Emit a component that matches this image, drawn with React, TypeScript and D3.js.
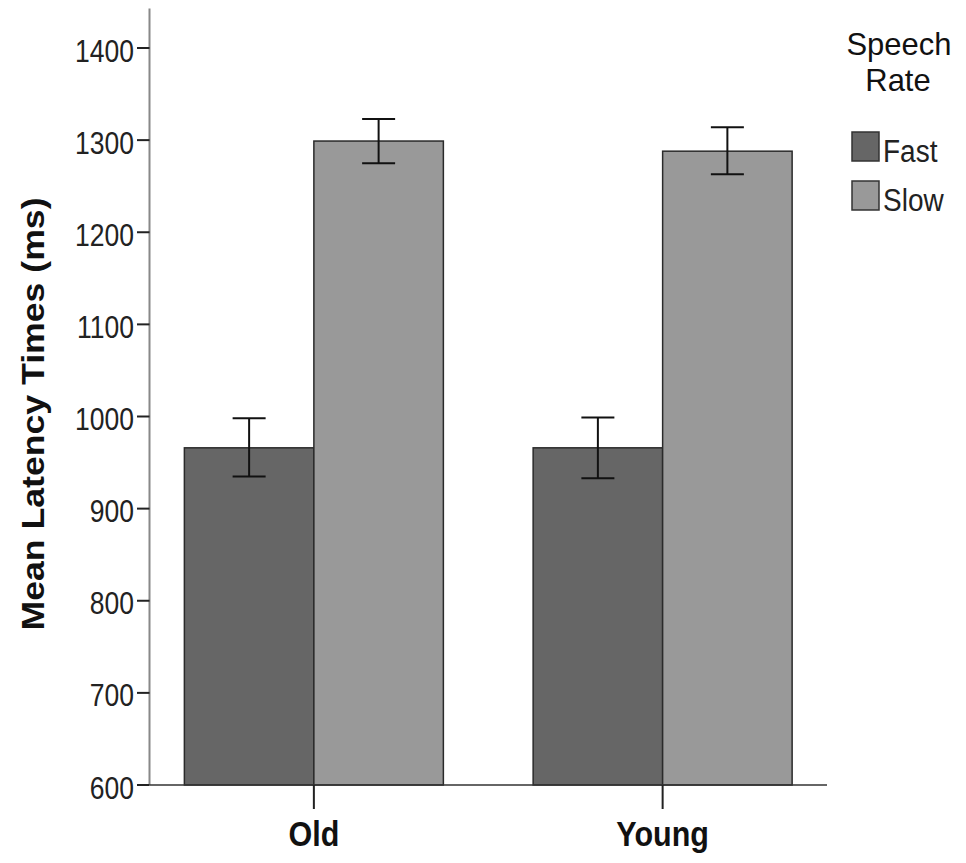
import React from "react";
import * as d3 from "d3";

const categories = ["Old", "Young"];
const seriesNames = ["Fast", "Slow"];
const fastMeans = [966, 966];
const slowMeans = [1299, 1288];
const fastLower = [935, 933];
const fastUpper = [998, 999];
const slowLower = [1275, 1263];
const slowUpper = [1323, 1314];
const yTicks = [600, 700, 800, 900, 1000, 1100, 1200, 1300, 1400];
const colors = ["#666666", "#999999"];
const legendTitleLines = ["Speech", "Rate"];

const W = 966;
const H = 863;
const FONT = "'Liberation Sans', Arial, sans-serif";

export default function App() {
  const y = d3.scaleLinear().domain([600, 1400]).range([785, 48]);
  const xAxisLeft = 149.5;
  const xAxisRight = 827;
  const x0 = d3
    .scaleBand<string>()
    .domain(categories)
    .range([xAxisLeft, xAxisRight])
    .paddingInner(0.2574)
    .paddingOuter(0.1);
  const x1 = d3.scaleBand<string>().domain(seriesNames).range([0, x0.bandwidth()]);
  const yTop = y(1443);
  const base = y(600);

  const series = [
    { name: "Fast", means: fastMeans, lo: fastLower, hi: fastUpper, color: colors[0] },
    { name: "Slow", means: slowMeans, lo: slowLower, hi: slowUpper, color: colors[1] },
  ];
  const capHalf = 16.5;
  const ls = 1.03;

  return (
    <svg
      width={W}
      height={H}
      style={{ position: "absolute", left: 0, top: 0, background: "#fff" }}
      fontFamily={FONT}
    >
      <rect x={0} y={0} width={W} height={H} fill="#fff" />
      {/* bars */}
      {series.map((s) =>
        categories.map((c, i) => {
          const bx = (x0(c) as number) + (x1(s.name) as number);
          const by = y(s.means[i]);
          return (
            <rect
              key={s.name + c}
              x={bx}
              y={by}
              width={x1.bandwidth()}
              height={base - by}
              fill={s.color}
              stroke="#2a2a2a"
              strokeWidth={1.5}
            />
          );
        })
      )}
      {/* error bars */}
      {series.map((s) =>
        categories.map((c, i) => {
          const cx = (x0(c) as number) + (x1(s.name) as number) + x1.bandwidth() / 2;
          const yl = y(s.lo[i]);
          const yh = y(s.hi[i]);
          return (
            <g key={"e" + s.name + c} stroke="#111" strokeWidth={2}>
              <line x1={cx} x2={cx} y1={yh} y2={yl} />
              <line x1={cx - capHalf} x2={cx + capHalf} y1={yh} y2={yh} />
              <line x1={cx - capHalf} x2={cx + capHalf} y1={yl} y2={yl} />
            </g>
          );
        })
      )}
      {/* y axis */}
      <line x1={xAxisLeft} x2={xAxisLeft} y1={yTop} y2={base} stroke="#888" strokeWidth={2} />
      {yTicks.map((t) => (
        <g key={t}>
          <line x1={137} x2={xAxisLeft} y1={y(t)} y2={y(t)} stroke="#222" strokeWidth={2} />
          <text
            transform={`translate(134, ${y(t) + 13.5}) scale(1, 1.19)`}
            textAnchor="end"
            fontSize={26.5}
            fill="#222"
          >
            {t}
          </text>
        </g>
      ))}
      {/* x axis */}
      <line x1={xAxisLeft} x2={xAxisRight} y1={base} y2={base} stroke="#333" strokeWidth={1.5} />
      {categories.map((c) => {
        const cx = (x0(c) as number) + x0.bandwidth() / 2;
        return (
          <g key={c}>
            <line x1={cx} x2={cx} y1={base} y2={809} stroke="#222" strokeWidth={2} />
            <text
              transform={`translate(${cx}, 846) scale(1, 1.18)`}
              textAnchor="middle"
              fontSize={30.5}
              fontWeight="bold"
              fill="#111"
            >
              {c}
            </text>
          </g>
        );
      })}
      {/* y title */}
      <text
        transform={`translate(44, 414) rotate(-90) scale(1.15, 1)`}
        textAnchor="middle"
        fontSize={31}
        fontWeight="bold"
        fill="#111"
      >
        Mean Latency Times (ms)
      </text>
      {/* legend */}
      <text transform={`scale(1, ${ls})`} textAnchor="middle" fontSize={31} fill="#111">
        <tspan x={899} y={55.5 / ls}>
          {legendTitleLines[0]}
        </tspan>
        <tspan x={898} y={91 / ls}>
          {legendTitleLines[1]}
        </tspan>
      </text>
      {series.map((s, i) => {
        const top = 132 + i * 49;
        return (
          <g key={"l" + s.name}>
            <rect x={852} y={top} width={27} height={29} fill={s.color} stroke="#333" strokeWidth={1.5} />
            <text
              transform={`translate(883, ${top + 29.5}) scale(1, 1.1)`}
              fontSize={28}
              fill="#222"
            >
              {s.name}
            </text>
          </g>
        );
      })}
    </svg>
  );
}
